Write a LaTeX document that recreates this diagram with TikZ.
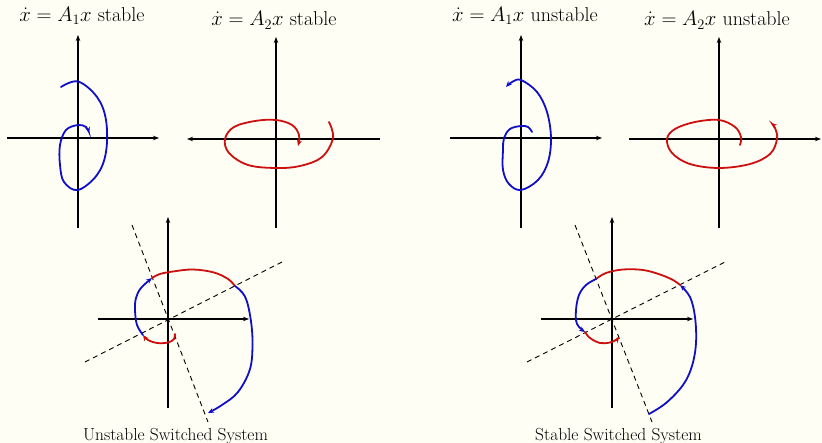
\documentclass[tikz,border=0pt]{standalone}
\usetikzlibrary{arrows.meta}
\definecolor{bgc}{RGB}{254,254,244}
\definecolor{cblue}{RGB}{15,15,200}
\definecolor{cred}{RGB}{205,15,15}
\begin{document}
\begin{tikzpicture}[x=1pt,y=-1pt,
 axis/.style={line width=1.3pt,-{Stealth[length=6pt,width=4.5pt]}},
 traj/.style={line width=1.8pt, line cap=round},
 tipped/.style={-{Stealth[length=6pt,width=5pt]}},
 sep/.style={line width=0.9pt, dash pattern=on 5pt off 4pt},
 ttl/.style={anchor=base, inner sep=0pt, font=\fontsize{20}{24}\selectfont},
 captxt/.style={anchor=base, inner sep=0pt, font=\fontsize{17.4}{20}\selectfont}]
\fill[bgc] (0,0) rectangle (822,443);
\useasboundingbox (0,0) rectangle (822,443);

% titles
\node[ttl] (t1) at (82,21.7) {$\dot{x} = A_1x$ stable};
\node[ttl] (t2) at (274,26) {$\dot{x} = A_2x$ stable};
\node[ttl] (t3) at (525,21.7) {$\dot{x} = A_1x$ unstable};
\node[ttl] (t4) at (717,26) {$\dot{x} = A_2x$ unstable};
\node[captxt] (c1) at (175.5,440) {Unstable Switched System};
\node[captxt] (c2) at (618.5,440) {Stable Switched System};

% axes
\draw[axis] (78,228) -- (78,35);
\draw[axis] (7,138) -- (159,138);
\draw[axis] (276,228) -- (276,37);
\draw[axis] (380,139) -- (187,139);
\draw[axis] (521,228) -- (521,35);
\draw[axis] (450,138) -- (602,138);
\draw[axis] (719,228) -- (719,37);
\draw[axis] (629,139) -- (821,139);
\draw[axis] (168,408) -- (168,217);
\draw[axis] (98,319) -- (249,319);
\draw[axis] (612,408) -- (612,217);
\draw[axis] (541,319) -- (693,319);

% switching lines
\draw[sep] (132,225) -- (208,422);
\draw[sep] (85,362) -- (282,262);
\draw[sep] (575,225) -- (652,422);
\draw[sep] (527,362) -- (725,262);

% A1 stable
\draw[traj,cblue,tipped] plot[smooth,tension=0.6] coordinates {(61,87) (78,81.5) (97,97) (106,120) (106,152) (97,175) (78,190) (64,182) (60,165) (60,145) (66,130) (78,125) (86,127) (89,133)};
% A2 stable
\draw[traj,cred,tipped] plot[smooth,tension=0.6] coordinates {(329,122) (333,138) (322,157) (300,166) (276,168) (248,165) (229,153) (225,139) (234,127) (255,121) (276,120) (292,125) (299,135) (298,146)};
% A1 unstable
\draw[traj,cblue,tipped] plot[smooth,tension=0.6] coordinates {(532,132) (528,127) (521,126) (510,129) (504,138) (503,150) (503,170) (509,184) (521,190) (538,180) (548,162) (551,138) (547,112) (537,92) (521,80) (512,82) (506,87)};
% A2 unstable
\draw[traj,cred,tipped] plot[smooth,tension=0.6] coordinates {(740,145) (741,137) (735,127) (719,120) (695,122) (675,129) (667,139) (672,153) (690,164) (719,168) (750,164) (770,154) (777,139) (775,128) (771,123)};

% unstable switched
\draw[traj,cred,tipped] plot[smooth,tension=0.6] coordinates {(175,334) (174,339) (168,342.5) (157,343) (148,340) (143,335)};
\draw[traj,cblue,tipped] plot[smooth,tension=0.6] coordinates {(143,335) (137,325) (135,310) (136,298) (141,288) (152,278)};
\draw[traj,cred] plot[smooth,tension=0.6] coordinates {(152,278) (160,274) (173,271.5) (193,269.5) (214,272.5) (228,279) (235,286)};
\draw[traj,cblue,tipped] plot[smooth,tension=0.6] coordinates {(235,286) (245,296.5) (250.5,318) (252.5,343) (250,369) (238,392) (222,405) (208,413)};

% stable switched
\draw[traj,cblue,tipped] plot[smooth,tension=0.6] coordinates {(649,414) (666,403) (683,385) (692,366) (696,343) (695,317) (690,297) (680,285)};
\draw[traj,cred] plot[smooth,tension=0.6] coordinates {(680,285) (673,280) (660,274.5) (643,270) (623,269.5) (606,273) (596,279)};
\draw[traj,cblue,tipped] plot[smooth,tension=0.6] coordinates {(596,279) (586,285) (579,295) (576,310) (577,324) (585,332)};
\draw[traj,cred,tipped] plot[smooth,tension=0.6] coordinates {(585,332) (590,338) (600,343) (610,342.5) (616,340) (619,337)};
\end{tikzpicture}
\end{document}
